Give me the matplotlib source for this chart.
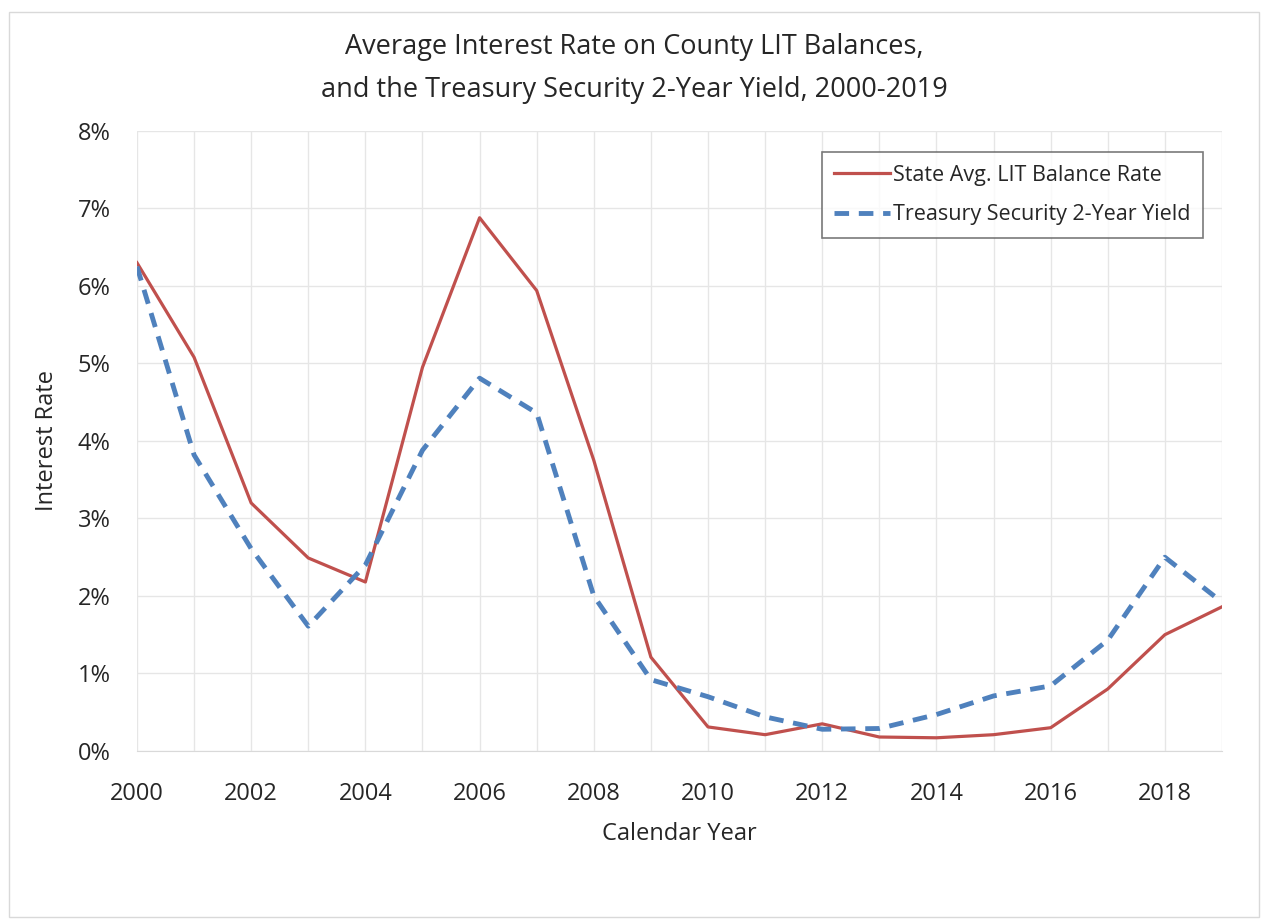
import matplotlib.pyplot as plt
from matplotlib.patches import Rectangle
from matplotlib.ticker import MultipleLocator, FuncFormatter

plt.rcParams['font.family'] = ['Open Sans', 'DejaVu Sans']

years = list(range(2000, 2020))
state_rate = [6.30, 5.08, 3.20, 2.49, 2.18, 4.95, 6.88, 5.94, 3.75, 1.21,
              0.31, 0.21, 0.35, 0.18, 0.17, 0.21, 0.30, 0.80, 1.50, 1.86]
treasury_2yr = [6.25, 3.82, 2.61, 1.61, 2.40, 3.88, 4.81, 4.36, 2.00, 0.92,
                0.70, 0.44, 0.28, 0.29, 0.47, 0.71, 0.84, 1.43, 2.50, 1.92]

fig = plt.figure(figsize=(12.68, 9.22), dpi=100)
ax = fig.add_axes([0.108, 0.1855, 0.8557, 0.6725])

# thin frame round the whole chart
fig.patches.append(Rectangle((0.007, 0.005), 0.986, 0.982, transform=fig.transFigure,
                             fill=False, edgecolor='#d9d9d9', linewidth=1))

ax.plot(years, state_rate, color='#c0504d', linewidth=2.3,
        label='State Avg. LIT Balance Rate', zorder=3)
ax.plot(years, treasury_2yr, color='#4f81bd', linewidth=3.5, linestyle=(0, (3, 2)),
        label='Treasury Security 2-Year Yield', zorder=3)

ax.set_xlim(2000, 2019)
ax.set_ylim(0, 8)
ax.xaxis.set_major_locator(MultipleLocator(2))
ax.xaxis.set_minor_locator(MultipleLocator(1))
ax.yaxis.set_major_locator(MultipleLocator(1))
ax.yaxis.set_major_formatter(FuncFormatter(lambda v, p: f'{v:.0f}%'))
ax.grid(True, which='both', color='#e6e6e6', linewidth=1)
ax.tick_params(which='both', length=0, labelsize=17, colors='#262626')
ax.tick_params(axis='x', pad=22)
ax.tick_params(axis='y', pad=19)
for side in ['top', 'right', 'left']:
    ax.spines[side].set_visible(False)
ax.spines['bottom'].set_color('#d9d9d9')

ax.set_xlabel('Calendar Year', fontsize=17, color='#262626', labelpad=12)
ax.set_ylabel('Interest Rate', fontsize=17, color='#262626', labelpad=13)
fig.text(0.5, 0.926, 'Average Interest Rate on County LIT Balances,\n'
         'and the Treasury Security 2-Year Yield, 2000-2019',
         ha='center', va='center', fontsize=19.5, color='#262626', linespacing=1.7)

leg = ax.legend(loc='upper right', fontsize=15.5, handlelength=2.6, handletextpad=0.1,
                borderpad=0.6, labelspacing=0.85, fancybox=False, borderaxespad=0,
                bbox_to_anchor=(0.9825, 0.966))
leg.get_frame().set_edgecolor('#595959')
leg.get_frame().set_linewidth(1.2)
for t in leg.get_texts():
    t.set_color('#262626')

fig.savefig('out.png', dpi=100, facecolor='white')
